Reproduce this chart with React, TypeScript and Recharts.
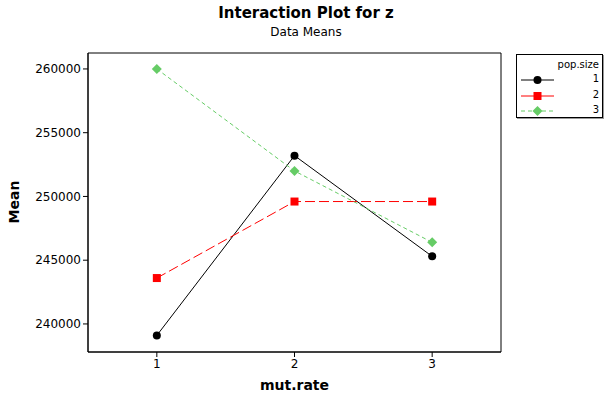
import {
  LineChart,
  Line,
  XAxis,
  YAxis,
  Legend,
  Label,
  ReferenceArea,
} from "recharts";

/* 分类：mut.rate */
const MUT_RATE = [1, 2, 3];

/* 各 pop.size 的均值 */
const POP1 = [239100, 253200, 245300];
const POP2 = [243600, 249600, 249600];
const POP3 = [260000, 252000, 246400];

/* 轴刻度 */
const Y_TICKS = [240000, 245000, 250000, 255000, 260000];
const X_TICKS = [1, 2, 3];

const FONT = "'DejaVu Sans', Verdana, sans-serif";

const data = MUT_RATE.map((m, i) => ({
  rate: m,
  p1: POP1[i],
  p2: POP2[i],
  p3: POP3[i],
}));

/* 系列样式 */
const SERIES = [
  { key: "p1", name: "1", color: "#000000", dash: undefined, shape: "circle" },
  { key: "p2", name: "2", color: "#ff0000", dash: "10 4", shape: "square" },
  { key: "p3", name: "3", color: "#66cc66", dash: "4 3", shape: "diamond" },
];

function Marker({ cx, cy, shape, color }: any) {
  if (cx == null || cy == null) return null;
  if (shape === "circle") return <circle cx={cx} cy={cy} r={4} fill={color} />;
  if (shape === "square")
    return <rect x={cx - 4} y={cy - 4} width={8} height={8} fill={color} />;
  return (
    <polygon
      points={`${cx},${cy - 5} ${cx + 5},${cy} ${cx},${cy + 5} ${cx - 5},${cy}`}
      fill={color}
    />
  );
}

/* 图例 */
function LegendBox() {
  return (
    <div
      style={{
        position: "absolute",
        left: 516,
        top: 54,
        width: 87,
        height: 64,
        border: "1px solid #000",
        boxShadow: "1px 1px 0 #999",
        background: "#fff",
        fontFamily: FONT,
        fontSize: 10,
        boxSizing: "border-box",
      }}
    >
      <div style={{ position: "absolute", right: 3, top: 4 }}>pop.size</div>
      {SERIES.map((s, i) => (
        <div key={s.key} style={{ position: "absolute", left: 0, top: 18 + i * 15.5, width: 85, height: 14 }}>
          <svg width={40} height={14} style={{ position: "absolute", left: 4, top: 0 }}>
            <line x1={0} y1={7} x2={33} y2={7} stroke={s.color} strokeWidth={1} strokeDasharray={s.shape === "diamond" ? "4 3" : undefined} />
            <Marker cx={16.5} cy={7} shape={s.shape} color={s.color} />
          </svg>
          <span style={{ position: "absolute", right: 3, top: 0 }}>{s.name}</span>
        </div>
      ))}
    </div>
  );
}

export default function App() {
  return (
    <div style={{ position: "absolute", left: 0, top: 0, width: 607, height: 395, background: "#fff" }}>
      <div
        style={{
          position: "absolute",
          left: 0,
          width: 612,
          top: 4,
          textAlign: "center",
          fontFamily: FONT,
          fontWeight: "bold",
          fontSize: 15,
        }}
      >
        Interaction Plot for z
      </div>
      <div
        style={{
          position: "absolute",
          left: 0,
          width: 612,
          top: 25,
          textAlign: "center",
          fontFamily: FONT,
          fontSize: 12,
        }}
      >
        Data Means
      </div>
      <LineChart
        width={607}
        height={395}
        data={data}
        margin={{ top: 53, right: 106, left: 0, bottom: 0 }}
        style={{ position: "absolute", left: 0, top: 0 }}
      >
        <XAxis
          dataKey="rate"
          type="number"
          domain={[0.5, 3.5]}
          ticks={X_TICKS}
          height={43}
          tickSize={5}
          tick={{ fill: "#000", fontSize: 12, fontFamily: FONT }}
          axisLine={{ stroke: "#000" }}
          tickLine={{ stroke: "#000" }}
        >
          <Label
            value="mut.rate"
            position="insideBottom"
            offset={5}
            style={{ fontFamily: FONT, fontWeight: "bold", fontSize: 14, fill: "#000" }}
          />
        </XAxis>
        <YAxis
          type="number"
          domain={[237800, 261250]}
          ticks={Y_TICKS}
          width={88}
          tickSize={5}
          tick={{ fill: "#000", fontSize: 12, fontFamily: FONT }}
          axisLine={{ stroke: "#000" }}
          tickLine={{ stroke: "#000" }}
          allowDataOverflow
        >
          <Label
            content={() => (
              <text
                x={19}
                y={202}
                transform="rotate(-90 19 202)"
                textAnchor="middle"
                style={{ fontFamily: FONT, fontWeight: "bold", fontSize: 14, fill: "#000" }}
              >
                Mean
              </text>
            )}
          />
        </YAxis>
        <ReferenceArea
          x1={0.5}
          x2={3.5}
          y1={237800}
          y2={261250}
          fill="none"
          stroke="#000"
          strokeWidth={1}
          ifOverflow="visible"
        />
        {SERIES.map((s) => (
          <Line
            key={s.key}
            type="linear"
            dataKey={s.key}
            name={s.name}
            stroke={s.color}
            strokeWidth={1}
            strokeDasharray={s.dash}
            dot={(p: any) => <Marker key={`${s.key}-${p.index}`} cx={p.cx} cy={p.cy} shape={s.shape} color={s.color} />}
            activeDot={false}
            isAnimationActive={false}
          />
        ))}
        <Legend content={() => null} />
      </LineChart>
      <LegendBox />
    </div>
  );
}
